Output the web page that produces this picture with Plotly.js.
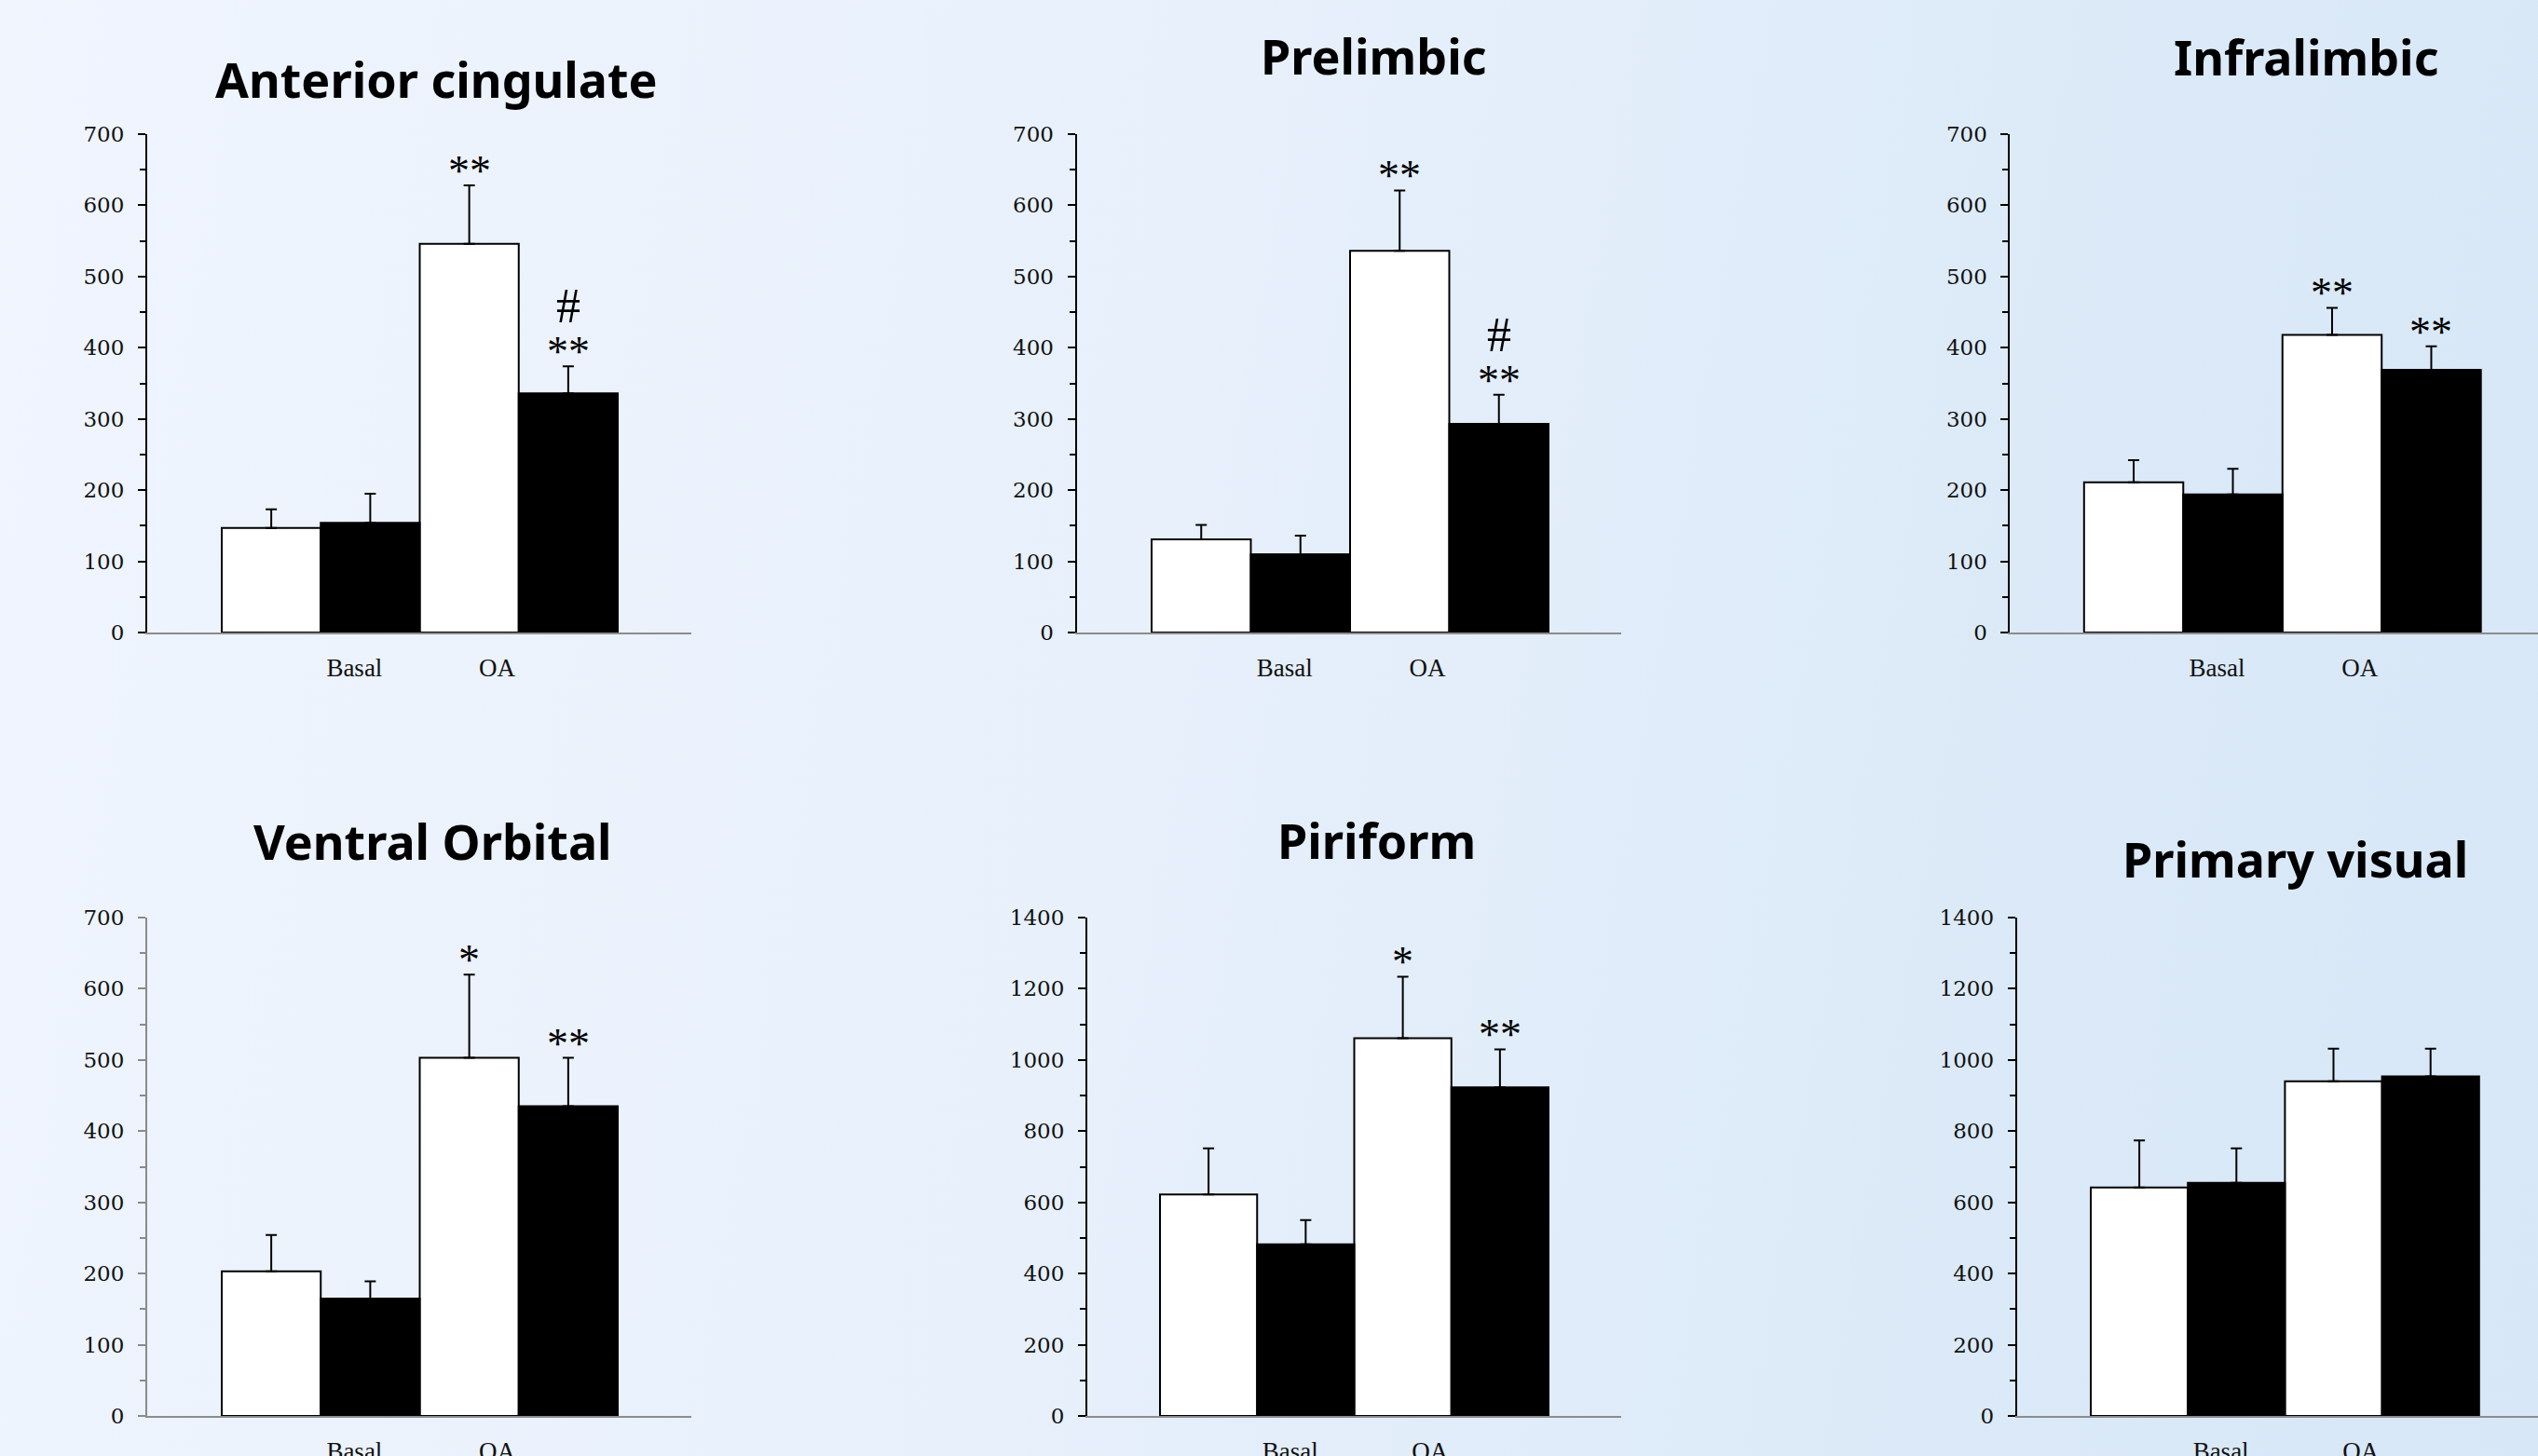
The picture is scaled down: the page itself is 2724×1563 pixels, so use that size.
<!DOCTYPE html>
<html>
<head>
<meta charset="utf-8">
<script src="https://cdn.plot.ly/plotly-3.0.1.min.js"></script>
<style>
  html, body { margin:0; padding:0; width:2724px; height:1563px; overflow:hidden; }
  body { background: linear-gradient(100deg, #F0F5FE 0%, #E7F0FB 45%, #DCEAF8 75%, #D7E7F7 100%); }
  #chart { width:2724px; height:1563px; }
</style>
</head>
<body>
<div id="chart"></div>
<script>
// ---- data ----
const panelTitles = ["Anterior cingulate", "Prelimbic", "Infralimbic", "Ventral Orbital", "Piriform", "Primary visual"];
const categories = ["Basal", "OA"];
const whiteMean = [[147, 546], [131, 536], [211, 418], [203, 503], [622, 1061], [642, 940]];
const whiteSem  = [[26, 82],   [20, 85],   [31, 38],   [51, 117],  [130, 173],  [132, 92]];
const blackMean = [[154, 336], [110, 293], [194, 369], [165, 435], [482, 923],  [655, 954]];
const blackSem  = [[41, 38],   [26, 41],   [36, 33],   [24, 68],   [68, 107],   [97, 78]];
const whiteSig  = [["", "**"], ["", "**"], ["", "**"], ["", "*"], ["", "*"], ["", ""]];
const blackSig  = [["", "**"], ["", "**"], ["", "**"], ["", "**"], ["", "**"], ["", ""]];
const blackHash = [["", "#"], ["", "#"], ["", ""], ["", ""], ["", ""], ["", ""]];
const yMax  = [700, 700, 700, 700, 1400, 1400];
const yStep = [100, 100, 100, 100, 200, 200];

// ---- layout geometry (pixels on the 2724x1563 page) ----
const W = 2724, H = 1563;
const geom = [
  {ax: [158, 742],    bars: [238, 663],     y: [144, 679],  title: [468, 84],   axColor: '#000000'},
  {ax: [1155.6, 1740],bars: [1236, 1662],   y: [144, 679],  title: [1474, 60],  axColor: '#000000'},
  {ax: [2157.4, 2724],bars: [2236.8, 2662.7],y: [144, 679], title: [2475, 61],  axColor: '#000000'},
  {ax: [158, 742],    bars: [238, 663],     y: [985, 1520], title: [464, 902],  axColor: '#8a8a8a'},
  {ax: [1167, 1740],  bars: [1245, 1662],   y: [985, 1520], title: [1477, 901], axColor: '#000000'},
  {ax: [2164.7, 2724],bars: [2244, 2660.8], y: [985, 1520], title: [2463, 921], axColor: '#000000'}
];

const traces = [];
const annotations = [];
const layout = {
  width: W, height: H,
  margin: {l: 0, r: 0, t: 0, b: 0},
  paper_bgcolor: 'rgba(0,0,0,0)',
  plot_bgcolor: 'rgba(0,0,0,0)',
  showlegend: false,
  barmode: 'group',
  bargap: 0,
  bargroupgap: 0,
  annotations: annotations
};

const idx = categories.map((c, k) => k);
const starFont = {family: 'Liberation Serif, Times New Roman, serif', size: 46, color: '#000000'};

panelTitles.forEach((title, i) => {
  const g = geom[i];
  const n = i + 1;
  const xa = 'x' + n, ya = 'y' + n;
  const u = 2 / (g.bars[1] - g.bars[0]);
  const range = [-0.5 - (g.bars[0] - g.ax[0]) * u, 1.5 + (g.ax[1] - g.bars[1]) * u];

  traces.push({
    type: 'bar', x: idx, y: whiteMean[i], xaxis: xa, yaxis: ya,
    marker: {color: '#ffffff', line: {color: '#000000', width: 2}},
    error_y: {type: 'data', symmetric: false, array: whiteSem[i], arrayminus: whiteSem[i].map(() => 0),
              color: '#000000', thickness: 2, width: 6},
    hoverinfo: 'y'
  });
  traces.push({
    type: 'bar', x: idx, y: blackMean[i], xaxis: xa, yaxis: ya,
    marker: {color: '#000000', line: {color: '#000000', width: 2}},
    error_y: {type: 'data', symmetric: false, array: blackSem[i], arrayminus: blackSem[i].map(() => 0),
              color: '#000000', thickness: 2, width: 6},
    hoverinfo: 'y'
  });

  layout['xaxis' + n] = {
    domain: [g.ax[0] / W, Math.min(1, g.ax[1] / W)],
    range: range,
    anchor: ya,
    showline: true, linecolor: '#8c8c8c', linewidth: 2,
    showgrid: false, zeroline: false, ticks: '',
    tickmode: 'array',
    tickvals: idx.map(k => k === 0 ? k + 0.17 : k - 0.11),
    ticktext: categories,
    tickfont: {family: 'Liberation Serif, Times New Roman, serif', size: 27, color: '#111111'},
    ticklabelstandoff: 13,
    fixedrange: true
  };
  layout['yaxis' + n] = {
    domain: [1 - g.y[1] / H, 1 - g.y[0] / H],
    range: [0, yMax[i]],
    anchor: xa,
    showline: true, linecolor: g.axColor, linewidth: 2,
    showgrid: false, zeroline: false,
    ticks: 'outside', ticklen: 8, tickwidth: 2, tickcolor: g.axColor,
    tickmode: 'linear', tick0: 0, dtick: yStep[i],
    minor: {ticks: 'outside', ticklen: 6, tickwidth: 2, tickcolor: g.axColor, dtick: yStep[i] / 2, showgrid: false},
    tickfont: {family: 'DejaVu Serif, Georgia, serif', size: 23, color: '#111111'},
    ticklabelstandoff: 10,
    fixedrange: true
  };

  annotations.push({
    xref: 'paper', yref: 'paper', x: g.title[0] / W, y: 1 - g.title[1] / H,
    xanchor: 'center', yanchor: 'middle', showarrow: false,
    text: '<b>' + title + '</b>',
    font: {family: 'Comic Sans MS, Noto Sans, sans-serif', size: 52, color: '#000000'}
  });

  idx.forEach(k => {
    if (whiteSig[i][k]) {
      annotations.push({
        xref: xa, yref: ya, x: k - 0.25, y: whiteMean[i][k] + whiteSem[i][k],
        xanchor: 'center', yanchor: 'bottom', yshift: -12, showarrow: false,
        text: whiteSig[i][k], font: starFont
      });
    }
    if (blackSig[i][k]) {
      annotations.push({
        xref: xa, yref: ya, x: k + 0.25, y: blackMean[i][k] + blackSem[i][k],
        xanchor: 'center', yanchor: 'bottom', yshift: -12, showarrow: false,
        text: blackSig[i][k], font: starFont
      });
    }
    if (blackHash[i][k]) {
      annotations.push({
        xref: xa, yref: ya, x: k + 0.25, y: blackMean[i][k] + blackSem[i][k],
        xanchor: 'center', yanchor: 'bottom', yshift: 34, showarrow: false,
        text: blackHash[i][k],
        font: {family: 'Liberation Serif, Times New Roman, serif', size: 52, color: '#000000'}
      });
    }
  });
});

Plotly.newPlot('chart', traces, layout, {staticPlot: true, displayModeBar: false});
</script>
</body>
</html>
